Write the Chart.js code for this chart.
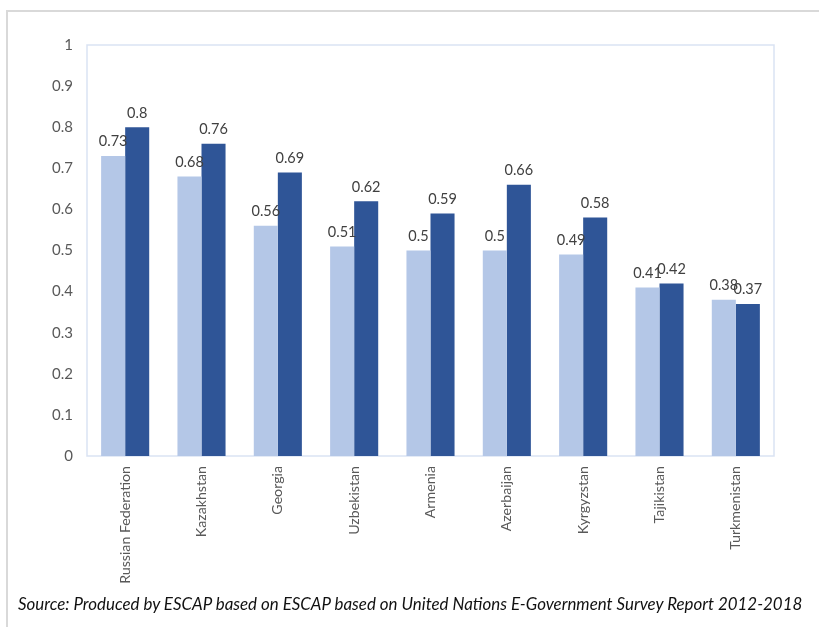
<!DOCTYPE html>
<html lang="en">

<head>
    <meta charset="UTF-8">
    <title>E-Government Development Index</title>
    <style>
        body {
            margin: 0;
            padding: 0;
            background: #fff;
            font-family: Lato, Arial, sans-serif;
        }

        .page {
            position: relative;
            width: 819px;
            height: 627px;
            overflow: hidden;
        }

        .frame {
            position: absolute;
            left: 6px;
            top: 10px;
            width: 900px;
            height: 700px;
            border-top: 2px solid #d9d9d9;
            border-left: 2px solid #d9d9d9;
        }

        #egovChart {
            position: absolute;
            left: 0;
            top: 0;
        }

        .source {
            position: absolute;
            left: 18px;
            top: 593px;
            font-size: 16.9px;
            font-style: italic;
            color: #111;
            white-space: nowrap;
        }
    </style>
</head>

<body>
    <div class="page">
        <div class="frame"></div>
        <canvas id="egovChart" width="819" height="627"></canvas>
        <div class="source">Source: Produced by ESCAP based on ESCAP based on United Nations E-Government Survey Report 2012-2018</div>
    </div>

    <script src="https://cdn.jsdelivr.net/npm/chart.js"></script>
    <script>
        const countries = ['Russian Federation', 'Kazakhstan', 'Georgia', 'Uzbekistan', 'Armenia',
            'Azerbaijan', 'Kyrgyzstan', 'Tajikistan', 'Turkmenistan'];
        const index2012 = [0.73, 0.68, 0.56, 0.51, 0.5, 0.5, 0.49, 0.41, 0.38];
        const index2018 = [0.8, 0.76, 0.69, 0.62, 0.59, 0.66, 0.58, 0.42, 0.37];
        const yTicks = [0, 0.1, 0.2, 0.3, 0.4, 0.5, 0.6, 0.7, 0.8, 0.9, 1];

        // box around the plot area
        const plotBorder = {
            id: 'plotBorder',
            beforeDatasetsDraw(chart) {
                const { ctx, chartArea: a } = chart;
                ctx.save();
                ctx.strokeStyle = '#dae3f3';
                ctx.lineWidth = 1.5;
                ctx.strokeRect(a.left, a.top, a.right - a.left, a.bottom - a.top);
                ctx.restore();
            }
        };

        // value printed above each bar
        const barValues = {
            id: 'barValues',
            afterDatasetsDraw(chart) {
                const ctx = chart.ctx;
                ctx.save();
                ctx.font = '14.5px Lato, Arial, sans-serif';
                ctx.fillStyle = '#404040';
                ctx.textAlign = 'center';
                ctx.textBaseline = 'bottom';
                chart.data.datasets.forEach((ds, i) => {
                    chart.getDatasetMeta(i).data.forEach((bar, j) => {
                        ctx.fillText(String(ds.data[j]), bar.x, bar.y - 7);
                    });
                });
                ctx.restore();
            }
        };

        const ctx = document.getElementById('egovChart').getContext('2d');
        new Chart(ctx, {
            type: 'bar',
            data: {
                labels: countries,
                datasets: [
                    {
                        label: '2012',
                        data: index2012,
                        backgroundColor: '#b4c7e7',
                        categoryPercentage: 0.63,
                        barPercentage: 1
                    },
                    {
                        label: '2018',
                        data: index2018,
                        backgroundColor: '#2f5597',
                        categoryPercentage: 0.63,
                        barPercentage: 1
                    }
                ]
            },
            options: {
                responsive: false,
                animation: false,
                layout: {
                    padding: { top: 45, right: 45, left: 0, bottom: 0 }
                },
                plugins: {
                    legend: { display: false },
                    tooltip: { enabled: false }
                },
                scales: {
                    x: {
                        grid: { display: false, drawTicks: false },
                        border: { display: false },
                        ticks: {
                            minRotation: 90,
                            maxRotation: 90,
                            padding: 10,
                            color: '#595959',
                            font: { family: 'Lato, Arial, sans-serif', size: 14.2 }
                        },
                        afterFit(scale) { scale.height = 171; }
                    },
                    y: {
                        min: 0,
                        max: 1,
                        grid: { display: false, drawTicks: false },
                        border: { display: false },
                        afterBuildTicks(scale) {
                            scale.ticks = yTicks.map(v => ({ value: v }));
                        },
                        ticks: {
                            padding: 14,
                            color: '#595959',
                            font: { family: 'Lato, Arial, sans-serif', size: 15 },
                            callback: v => String(v)
                        },
                        afterFit(scale) { scale.width = 87; }
                    }
                }
            },
            plugins: [plotBorder, barValues]
        });
    </script>
</body>

</html>
